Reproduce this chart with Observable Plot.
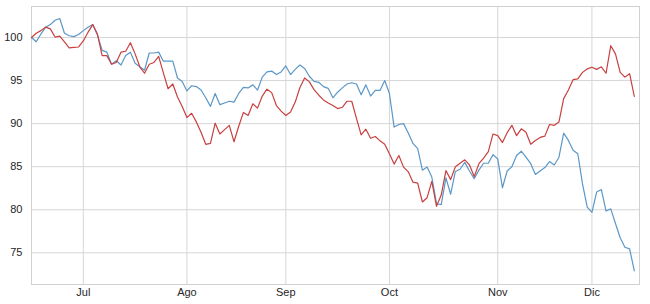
<!DOCTYPE html>
<html>
<head>
<meta charset="utf-8">
<script src="https://cdn.jsdelivr.net/npm/d3@7"></script>
<script src="https://cdn.jsdelivr.net/npm/@observablehq/plot@0.6"></script>
<style>
  html, body { margin: 0; padding: 0; background: #fff; }
  #chart { width: 650px; height: 304px; }
</style>
</head>
<body>
<div id="chart"></div>
<script>
// Trading-day index of the first session of each month, and its label
const monthTicks = [11, 33, 54, 76, 99, 119];
const monthLabels = ["Jul", "Ago", "Sep", "Oct", "Nov", "Dic"];
const yTicks = [75, 80, 85, 90, 95, 100];

// Blue series (one value per trading day)
const blue = [
  100, 99.5, 100.4, 101.2, 101.5, 102.0, 102.2, 100.5, 100.2, 100.1,
  100.35, 100.8, 101.2, 101.5, 100.3, 98.5, 98.3, 96.9, 97.3, 96.8,
  97.9, 98.3, 97.0, 96.6, 96.2, 98.2, 98.2, 98.3, 97.25, 97.25,
  97.25, 95.3, 94.9, 93.8, 94.4, 94.3, 93.9, 93.0, 92.0, 93.5,
  92.2, 92.4, 92.6, 92.5, 93.5, 94.2, 94.15, 94.5, 93.9, 95.4,
  96.0, 96.1, 95.7, 96.0, 96.7, 95.7, 96.3, 96.8, 96.4, 95.5,
  94.9, 94.8, 94.3, 94.1, 93.0, 93.65, 94.15, 94.6, 94.75, 94.6,
  93.35, 94.5, 93.2, 93.85, 93.85, 95.0, 93.5, 89.6, 89.9, 90.0,
  88.9, 87.7, 87.1, 84.6, 84.95, 83.8, 80.7, 80.6, 83.7, 81.8,
  84.45, 84.7, 85.5, 84.5, 83.6, 84.6, 85.4, 85.4, 86.4, 85.9,
  82.55, 84.5, 85.0, 86.3, 86.8, 86.1, 85.35, 84.1, 84.5, 84.9,
  85.6, 85.2, 86.1, 88.9, 88.05, 86.9, 86.5, 83.0, 80.3, 79.7,
  82.05, 82.35, 79.85, 80.1, 78.4, 76.75, 75.65, 75.45, 72.9
];

// Red series (one value per trading day)
const red = [
  100, 100.5, 100.8, 101.2, 101.0, 100.05, 100.15, 99.5, 98.8, 98.85,
  98.9, 99.6, 100.6, 101.5, 100.4, 97.9, 97.9, 96.9, 97.1, 98.3,
  98.4, 99.4, 98.1, 96.6, 95.85, 96.9, 97.1, 97.8, 95.9, 94.05,
  94.6, 93.1, 92.0, 90.7, 91.2, 90.2, 89.0, 87.6, 87.7, 90.05,
  88.8, 89.3, 89.8, 87.9, 89.7, 91.3, 90.95, 92.3, 91.8, 93.2,
  94.0, 93.6, 92.1, 91.45, 90.95, 91.35, 92.5, 94.2, 95.3, 94.85,
  93.95, 93.3, 92.75, 92.4, 92.1, 91.75, 91.9, 92.6, 92.6, 90.6,
  88.7, 89.35, 88.3, 88.5, 88.0, 87.6, 86.5, 85.3, 86.3, 84.95,
  84.4, 83.2, 83.1, 80.9, 81.4, 83.3, 80.4, 81.7, 84.55, 83.5,
  85.0, 85.4, 85.8, 85.2, 83.85, 85.35, 86.0, 86.75, 88.8, 88.6,
  87.8, 88.95, 89.8, 88.6, 89.4, 89.0, 87.6, 88.05, 88.4, 88.55,
  89.9, 89.8, 90.2, 92.9, 93.9, 95.1, 95.2, 95.95, 96.35, 96.55,
  96.3, 96.6, 95.85, 99.05, 98.1, 95.95, 95.4, 95.8, 93.15
];

const rows = blue.map((v, i) => ({ i, blue: v, red: red[i] }));

const chart = Plot.plot({
  width: 650,
  height: 304,
  marginLeft: 31,
  marginRight: 11,
  marginTop: 6,
  marginBottom: 20,
  style: {
    fontFamily: "'Liberation Sans', Arial, sans-serif",
    fontSize: "11px",
    color: "#262626",
    background: "#fff"
  },
  x: { domain: [0, 129.1], label: null },
  y: { domain: [71.32, 103.6], label: null },
  marks: [
    Plot.gridY(yTicks, { stroke: "#d6d6d6", strokeOpacity: 1, strokeWidth: 1 }),
    Plot.gridX(monthTicks, { stroke: "#d6d6d6", strokeOpacity: 1, strokeWidth: 1 }),
    Plot.frame({ stroke: "#d0d0d0", strokeWidth: 1 }),
    Plot.axisY(yTicks, { tickSize: 0, tickPadding: 9, label: null, fill: "#262626" }),
    Plot.axisX(monthTicks, {
      tickSize: 0, tickPadding: 4, label: null, fill: "#262626",
      tickFormat: d => monthLabels[monthTicks.indexOf(d)]
    }),
    Plot.lineY(rows, { x: "i", y: "blue", stroke: "#5b97c8", strokeWidth: 1.2 }),
    Plot.lineY(rows, { x: "i", y: "red", stroke: "#c8403f", strokeWidth: 1.2 })
  ]
});

document.getElementById("chart").appendChild(chart);
</script>
</body>
</html>
